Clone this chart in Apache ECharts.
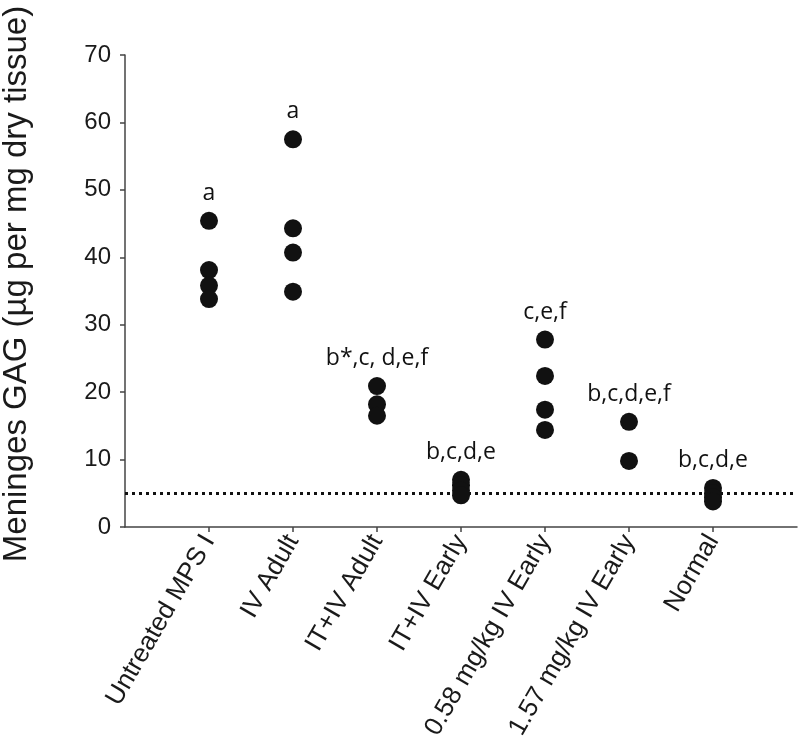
<!DOCTYPE html>
<html>
<head>
<meta charset="utf-8">
<script src="https://cdn.jsdelivr.net/npm/echarts@6/dist/echarts.min.js"></script>
<style>
  html, body { margin: 0; padding: 0; background: #fff; }
  #chart { width: 800px; height: 743px; }
</style>
</head>
<body>
<div id="chart"></div>
<script>
// groups along the x axis
var groups = ['Untreated MPS I', 'IV Adult', 'IT+IV Adult', 'IT+IV Early',
              '0.58 mg/kg IV Early', '1.57 mg/kg IV Early', 'Normal'];

// meninges GAG per animal (ug per mg dry tissue)
var untreatedMPS = [45.4, 38.1, 35.8, 33.8];
var ivAdult = [57.5, 44.3, 40.7, 34.9];
var itivAdult = [20.9, 18.2, 16.5];
var itivEarly = [7.0, 6.2, 5.4, 4.7];
var iv058Early = [27.8, 22.4, 17.4, 14.4];
var iv157Early = [15.6, 9.8];
var normal = [5.8, 5.0, 4.4, 3.8];

// significance letters above each group
var letters = ['a', 'a', 'b*,c, d,e,f', 'b,c,d,e', 'c,e,f', 'b,c,d,e,f', 'b,c,d,e'];

// dotted reference line (normal level)
var normalLevel = 5.0;

var yTicks = [0, 10, 20, 30, 40, 50, 60, 70];

var groupValues = [untreatedMPS, ivAdult, itivAdult, itivEarly, iv058Early, iv157Early, normal];

// x positions: empty slot at each end so groups sit at 1..7
var xData = [''].concat(groups).concat(['']);

var points = [];
groupValues.forEach(function (vals, gi) {
    var top = Math.max.apply(null, vals);
    var labelled = false;
    vals.forEach(function (v) {
        var item = { value: [gi + 1, v] };
        if (v === top && !labelled) {
            labelled = true;
            item.label = {
                show: true,
                position: 'top',
                distance: 7,
                formatter: letters[gi]
            };
        }
        points.push(item);
    });
});

var myChart = echarts.init(document.getElementById('chart'));

var option = {
    animation: false,
    backgroundColor: '#fff',
    grid: {
        left: 125,
        right: 3,
        top: 55,
        bottom: 216,
        containLabel: false,
        outerBoundsMode: 'none'
    },
    xAxis: {
        type: 'category',
        data: xData,
        boundaryGap: false,
        axisLine: { lineStyle: { color: '#444', width: 1.5 } },
        axisTick: {
            length: 5,
            interval: function (i) { return i > 0 && i < xData.length - 1; },
            lineStyle: { color: '#444', width: 1.5 }
        },
        axisLabel: {
            interval: 0,
            rotate: 60,
            margin: 10,
            color: '#1a1a1a',
            fontSize: 26,
            fontFamily: 'Liberation Sans, Arial, sans-serif'
        },
        splitLine: { show: false }
    },
    yAxis: {
        type: 'value',
        min: yTicks[0],
        max: yTicks[yTicks.length - 1],
        interval: 10,
        name: 'Meninges GAG (µg per mg dry tissue)',
        nameLocation: 'middle',
        nameGap: 92,
        nameTextStyle: {
            color: '#1a1a1a',
            fontSize: 33,
            fontFamily: 'Liberation Sans, Arial, sans-serif',
            padding: [0, 0, 0, 14]
        },
        axisLine: { show: true, lineStyle: { color: '#444', width: 1.5 } },
        axisTick: { show: true, length: 5, lineStyle: { color: '#444', width: 1.5 } },
        axisLabel: {
            margin: 14,
            color: '#1a1a1a',
            fontSize: 24,
            fontFamily: 'Liberation Sans, Arial, sans-serif'
        },
        splitLine: { show: false }
    },
    series: [
        {
            type: 'scatter',
            symbol: 'circle',
            symbolSize: 18,
            itemStyle: { color: '#111', opacity: 1 },
            label: {
                color: '#111',
                fontSize: 23,
                fontFamily: 'Open Sans, Noto Sans, sans-serif'
            },
            data: points,
            markLine: {
                silent: true,
                symbol: 'none',
                label: { show: false },
                lineStyle: { color: '#111', width: 3, type: [3, 4], opacity: 1 },
                emphasis: { disabled: true },
                data: [{ yAxis: normalLevel }]
            },
            z: 3
        }
    ]
};

myChart.setOption(option);
</script>
</body>
</html>
